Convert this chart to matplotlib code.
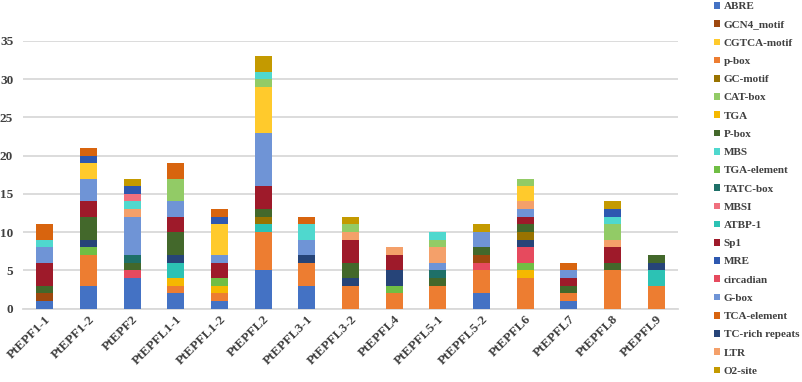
import matplotlib
matplotlib.use("Agg")
import matplotlib.pyplot as plt
import numpy as np
from matplotlib.patches import Patch

categories = ["PtEPF1-1", "PtEPF1-2", "PtEPF2", "PtEPFL1-1", "PtEPFL1-2", "PtEPFL2",
              "PtEPFL3-1", "PtEPFL3-2", "PtEPFL4", "PtEPFL5-1", "PtEPFL5-2", "PtEPFL6",
              "PtEPFL7", "PtEPFL8", "PtEPFL9"]

ABRE        = [1, 3, 4, 2, 1, 5, 3, 0, 0, 0, 2, 0, 1, 0, 0]
GCN4_motif  = [1, 0, 0, 0, 0, 0, 0, 0, 0, 0, 1, 0, 0, 0, 0]
CGTCA_motif = [0, 2, 0, 0, 4, 6, 0, 0, 0, 0, 0, 2, 0, 0, 0]
p_box       = [0, 4, 0, 1, 1, 5, 3, 3, 2, 3, 3, 4, 1, 5, 3]
GC_motif    = [0, 0, 0, 0, 0, 1, 0, 0, 0, 0, 0, 1, 0, 0, 0]
CAT_box     = [0, 0, 0, 3, 0, 1, 0, 1, 0, 1, 0, 1, 0, 2, 0]
TGA         = [0, 0, 0, 1, 1, 0, 0, 0, 0, 0, 0, 1, 0, 0, 0]
P_box       = [1, 3, 1, 3, 0, 1, 0, 2, 0, 1, 1, 1, 1, 1, 1]
MBS         = [1, 0, 1, 0, 0, 1, 2, 0, 0, 1, 0, 0, 0, 1, 0]
TGA_element = [0, 1, 0, 0, 1, 0, 0, 0, 1, 0, 0, 1, 0, 0, 0]
TATC_box    = [0, 0, 1, 0, 0, 0, 0, 0, 0, 1, 0, 0, 0, 0, 0]
MBSI        = [0, 0, 1, 0, 0, 0, 0, 0, 0, 0, 0, 0, 0, 0, 0]
ATBP_1      = [0, 0, 0, 2, 0, 1, 0, 0, 0, 0, 0, 0, 0, 0, 2]
Sp1         = [3, 2, 0, 2, 2, 3, 0, 3, 2, 0, 0, 1, 1, 2, 0]
MRE         = [0, 1, 1, 0, 1, 0, 0, 0, 0, 0, 0, 0, 0, 1, 0]
circadian   = [0, 0, 1, 0, 0, 0, 0, 0, 0, 0, 1, 2, 0, 0, 0]
G_box       = [2, 3, 5, 2, 1, 7, 2, 0, 0, 1, 2, 1, 1, 0, 0]
TCA_element = [2, 1, 0, 2, 1, 0, 1, 0, 0, 0, 0, 0, 1, 0, 0]
TC_rich     = [0, 1, 0, 1, 0, 0, 1, 1, 2, 0, 0, 1, 0, 0, 1]
LTR         = [0, 0, 1, 0, 0, 0, 0, 1, 1, 2, 0, 1, 0, 1, 0]
O2_site     = [0, 0, 1, 0, 0, 2, 0, 1, 0, 0, 1, 0, 0, 1, 0]

series = {
    "ABRE": (ABRE, "#4472C4"),
    "GCN4_motif": (GCN4_motif, "#9E480E"),
    "CGTCA-motif": (CGTCA_motif, "#FFCA2C"),
    "p-box": (p_box, "#ED7D31"),
    "GC-motif": (GC_motif, "#997300"),
    "CAT-box": (CAT_box, "#92CB66"),
    "TGA": (TGA, "#F5B800"),
    "P-box": (P_box, "#43682B"),
    "MBS": (MBS, "#4FD8CE"),
    "TGA-element": (TGA_element, "#70BE44"),
    "TATC-box": (TATC_box, "#1E7068"),
    "MBSI": (MBSI, "#F0707E"),
    "ATBP-1": (ATBP_1, "#2CC2B4"),
    "Sp1": (Sp1, "#9E1A2A"),
    "MRE": (MRE, "#2E58B0"),
    "circadian": (circadian, "#E64A5E"),
    "G-box": (G_box, "#6F94D6"),
    "TCA-element": (TCA_element, "#D8640E"),
    "TC-rich repeats": (TC_rich, "#264478"),
    "LTR": (LTR, "#F4A06A"),
    "O2-site": (O2_site, "#C49A00"),
}
legend_order = list(series.keys())
stack_order = ["ABRE", "p-box", "TGA", "ATBP-1", "TGA-element", "circadian",
               "TC-rich repeats", "GC-motif", "GCN4_motif", "P-box", "TATC-box",
               "Sp1", "G-box", "LTR", "CGTCA-motif", "CAT-box", "MBS", "MBSI",
               "MRE", "O2-site", "TCA-element"]

fig = plt.figure(figsize=(8.03, 3.82), dpi=100)
ax = fig.add_axes([0.0286, 0.1924, 0.8157, 0.7003])

x = np.arange(len(categories))
bottom = np.zeros(len(categories))
for name in stack_order:
    vals, col = series[name]
    v = np.array(vals, dtype=float)
    ax.bar(x, v, 0.39, bottom=bottom, color=col, linewidth=0, zorder=3)
    bottom += v

ax.set_xlim(-0.5, len(categories) - 0.5)
ax.set_ylim(0, 35)
ax.set_yticks(range(0, 36, 5))
ax.yaxis.grid(True, color="#D9D9D9", linewidth=1.3, zorder=0)
for s in ["top", "right", "left"]:
    ax.spines[s].set_visible(False)
ax.spines["bottom"].set_color("#D9D9D9")
ax.spines["bottom"].set_linewidth(1.3)
ax.tick_params(axis="both", length=0)
ax.tick_params(axis="y", pad=7)

tick_font = dict(family="Liberation Serif", weight="bold", size=9.5, color="#404040")
ax.set_yticklabels([str(t) for t in range(0, 36, 5)], **tick_font)
ax.set_xticks(x)
ax.set_xticklabels(categories, rotation=45, ha="right", rotation_mode="anchor", **tick_font)

handles = [Patch(facecolor=series[n][1], edgecolor="none") for n in legend_order]
leg = fig.legend(handles, legend_order, loc="upper left", bbox_to_anchor=(0.881, 1.012),
                 frameon=False, handlelength=0.55, handleheight=0.55, handletextpad=0.3,
                 labelspacing=0.805, borderaxespad=0.2,
                 prop=dict(family="Liberation Serif", weight="bold", size=8))
for t in leg.get_texts():
    t.set_color("#404040")

fig.savefig("out.png", dpi=100)
